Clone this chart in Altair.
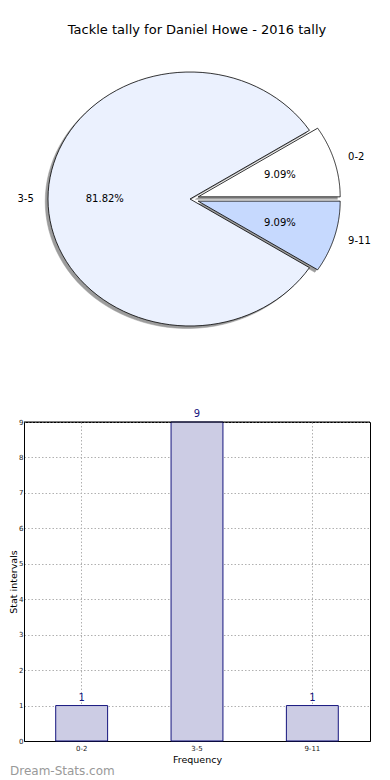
import altair as alt
import pandas as pd

# ---- data ----
categories = ["0-2", "3-5", "9-11"]
values = [1, 9, 1]
y_ticks = [0, 1, 2, 3, 4, 5, 6, 7, 8, 9]
title_text = "Tackle tally for Daniel Howe - 2016 tally"
watermark = "Dream-Stats.com"

# ---- style ----
explode = [0.06, 0.0, 0.06]
slice_colors = ["#FFFFFF", "#EBF1FE", "#C6D9FE"]
FONT = "DejaVu Sans"
N = 90  # arc resolution

# ---- pie layout (pixels -> data units) ----
RX, RY = 142.0, 127.0          # px per unit (matplotlib non-equal aspect)
PW, PH = 346, 375              # pie panel size
CX, CY = 166.0, 152.0          # pie centre inside panel (px)
xs = alt.Scale(domain=[-CX / RX, (PW - CX) / RX], nice=False, zero=False)
ys = alt.Scale(domain=[(CY - PH) / RY, CY / RY], nice=False, zero=False)

pie_df = pd.DataFrame({
    "cat": categories,
    "value": values,
    "idx": list(range(len(categories))),
    "explode": explode,
    "k": [list(range(-1, N + 1)) for _ in categories],
})

base = (
    alt.Chart(pie_df)
    .transform_joinaggregate(total="sum(value)")
    .transform_window(cum="sum(value)", sort=[alt.SortField("idx")], frame=[None, 0])
    .transform_calculate(a0="2*PI*(datum.cum-datum.value)/datum.total")
    .transform_calculate(a1="2*PI*datum.cum/datum.total")
    .transform_calculate(mid="(datum.a0+datum.a1)/2")
    .transform_calculate(ox="datum.explode*cos(datum.mid)")
    .transform_calculate(oy="datum.explode*sin(datum.mid)")
)

poly = (
    base.transform_flatten(["k"])
    .transform_calculate(t=f"datum.a0+(datum.a1-datum.a0)*datum.k/{N}")
    .transform_calculate(px="datum.k<0 ? datum.ox : datum.ox+cos(datum.t)")
    .transform_calculate(py="datum.k<0 ? datum.oy : datum.oy+sin(datum.t)")
)

enc = dict(
    x=alt.X("px:Q", scale=xs, axis=None),
    y=alt.Y("py:Q", scale=ys, axis=None),
    order=alt.Order("k:Q"),
)

shadow = poly.mark_line(
    interpolate="linear-closed", fill="#9c9c9c", stroke="#9c9c9c",
    strokeWidth=0.5, xOffset=-2.8, yOffset=2.5,
).encode(detail="cat:N", **enc)

slices = []
for c, col in zip(categories, slice_colors):
    slices.append(
        poly.transform_filter(alt.datum.cat == c)
        .mark_line(interpolate="linear-closed", fill=col, stroke="#000000", strokeWidth=0.8)
        .encode(**enc)
    )

lab = (
    base.transform_calculate(lx="datum.ox+1.1*cos(datum.mid)")
    .transform_calculate(ly="datum.oy+1.1*sin(datum.mid)")
    .transform_calculate(qx="datum.ox+0.6*cos(datum.mid)")
    .transform_calculate(qy="datum.oy+0.6*sin(datum.mid)")
    .transform_calculate(pct="format(100*datum.value/datum.total,'.2f')+'%'")
)

labels_right = lab.transform_filter("cos(datum.mid) >= 0").mark_text(
    align="left", baseline="middle", font=FONT, fontSize=10, color="#000000"
).encode(x=alt.X("lx:Q", scale=xs, axis=None), y=alt.Y("ly:Q", scale=ys, axis=None), text="cat:N")

labels_left = lab.transform_filter("cos(datum.mid) < 0").mark_text(
    align="right", baseline="middle", font=FONT, fontSize=10, color="#000000"
).encode(x=alt.X("lx:Q", scale=xs, axis=None), y=alt.Y("ly:Q", scale=ys, axis=None), text="cat:N")

pcts = lab.mark_text(
    align="center", baseline="middle", font=FONT, fontSize=10, color="#000000"
).encode(x=alt.X("qx:Q", scale=xs, axis=None), y=alt.Y("qy:Q", scale=ys, axis=None), text="pct:N")

pie = alt.layer(shadow, *slices, labels_right, labels_left, pcts).properties(
    width=PW, height=PH,
    title=alt.TitleParams(title_text, font=FONT, fontSize=13, fontWeight="normal",
                          color="#000000", anchor="middle", offset=10),
    view=alt.ViewBackground(stroke="transparent"),
)

# ---- bar chart ----
BW, BH = 346, 319
bar_df = pd.DataFrame({"cat": categories, "count": values})

xenc = alt.X(
    "cat:N", sort=categories,
    scale=alt.Scale(paddingInner=0, paddingOuter=0),
    axis=alt.Axis(title="Frequency", labelAngle=0, labelFontSize=7, labelFont=FONT,
                  labelColor="#222222", titleFont=FONT, titleFontSize=9.5,
                  titleFontWeight="normal", titleColor="#000000", titlePadding=3,
                  labelPadding=3, tickSize=0, domainColor="#000000", grid=True,
                  gridDash=[1.5, 2], gridColor="#b0b0b0", gridWidth=1, bandPosition=0.5,
                  labelOverlap=False),
)
yenc = alt.Y(
    "count:Q",
    scale=alt.Scale(domain=[y_ticks[0], y_ticks[-1]], nice=False),
    axis=alt.Axis(title="Stat intervals", values=y_ticks, labelFontSize=7, labelFont=FONT,
                  labelColor="#222222", titleFont=FONT, titleFontSize=9.5,
                  titleFontWeight="normal", titleColor="#000000", titlePadding=0,
                  labelPadding=1, tickSize=0, domainColor="#000000", grid=True,
                  gridDash=[1.5, 2], gridColor="#b0b0b0", gridWidth=1,
                  labelOverlap=False),
)

bars = alt.Chart(bar_df).mark_bar(
    fill="#CCCCE4", stroke="#15157e", strokeWidth=1, width=alt.RelativeBandSize(0.45)
).encode(x=xenc, y=yenc)

bar_text = alt.Chart(bar_df).mark_text(
    baseline="alphabetic", dy=-5, font=FONT, fontSize=10, color="#15157e"
).encode(x=xenc, y=yenc, text="count:Q")

top_edge = alt.Chart(pd.DataFrame({"count": [y_ticks[-1]]})).mark_rule(
    color="#000000", strokeWidth=1
).encode(y=yenc)

wm = alt.Chart(pd.DataFrame({"t": [watermark]})).mark_text(
    align="left", baseline="middle", font=FONT, fontSize=12, fontWeight="normal", color="#999999"
).encode(x=alt.value(-14), y=alt.value(BH + 30), text="t:N")

bar = alt.layer(bars, top_edge, bar_text, wm).properties(
    width=BW, height=BH,
    view=alt.ViewBackground(stroke="#000000", strokeWidth=1),
)

chart = alt.vconcat(pie, bar, spacing=0, bounds="flush").properties(
    padding={"left": 0, "top": 15, "right": 0, "bottom": 0},
).configure_view(stroke="transparent")

chart.save("out.html", embed_options={"renderer": "svg", "actions": False})
